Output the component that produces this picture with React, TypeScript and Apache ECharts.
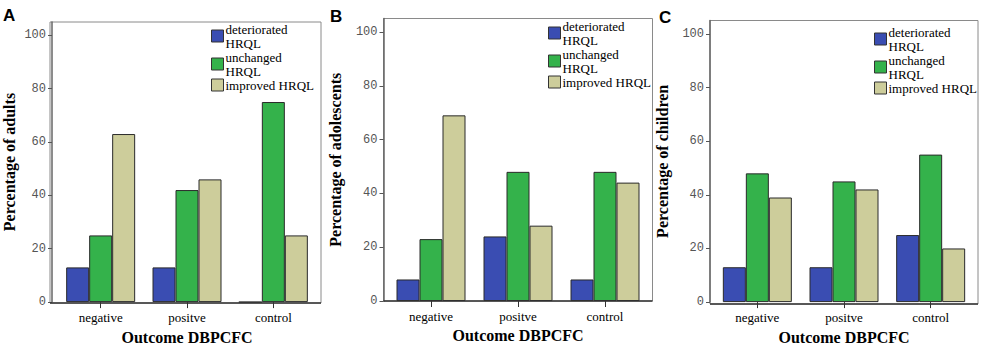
import React, { useEffect, useRef } from "react";
import * as echarts from "echarts";

const categories = ["negative", "positve", "control"];
const seriesNames = ["deteriorated HRQL", "unchanged HRQL", "improved HRQL"];
const colors = ["#3a4db2", "#34b24b", "#cdcd9b"];

const adultsDeteriorated = [13, 13, 0];
const adultsUnchanged = [25, 42, 75];
const adultsImproved = [63, 46, 25];

const adolescentsDeteriorated = [8, 24, 8];
const adolescentsUnchanged = [23, 48, 48];
const adolescentsImproved = [69, 28, 44];

const childrenDeteriorated = [13, 13, 25];
const childrenUnchanged = [48, 45, 55];
const childrenImproved = [39, 42, 20];

const yTicks = [0, 20, 40, 60, 80, 100];

const SERIF = "'Liberation Serif', 'Times New Roman', serif";
const MONO = "'Liberation Mono', 'Courier New', monospace";
const SANS = "'Liberation Sans', Arial, sans-serif";

const panels = [
  {
    label: "A",
    yName: "Percentage of adults",
    data: [adultsDeteriorated, adultsUnchanged, adultsImproved],
    box: { x: 50, y: 22, w: 271, h: 281 },
    inner: { left: 55.5, width: 261 },
    offset: 5.5,
    nameGap: 35,
    legend: { left: 211, top: 22 },
    labelPos: { x: 3, y: 7 },
  },
  {
    label: "B",
    yName: "Percentage of adolescents",
    data: [adolescentsDeteriorated, adolescentsUnchanged, adolescentsImproved],
    box: { x: 383.5, y: 18.5, w: 269, h: 282.5 },
    inner: { left: 387.5, width: 261 },
    offset: 4,
    nameGap: 40,
    legend: { left: 548, top: 19 },
    labelPos: { x: 330, y: 8 },
  },
  {
    label: "C",
    yName: "Percentage of children",
    data: [childrenDeteriorated, childrenUnchanged, childrenImproved],
    box: { x: 710, y: 20.5, w: 268, h: 283.5 },
    inner: { left: 714, width: 260 },
    offset: 4,
    nameGap: 40,
    legend: { left: 874, top: 25 },
    labelPos: { x: 659, y: 9 },
  },
];

export default function App() {
  const ref = useRef<HTMLDivElement>(null);

  useEffect(() => {
    if (!ref.current) return;
    const chart = echarts.init(ref.current, null, { renderer: "svg" });

    const grid: any[] = [];
    const xAxis: any[] = [];
    const yAxis: any[] = [];
    const series: any[] = [];
    const legend: any[] = [];
    const graphic: any[] = [];

    panels.forEach((p, i) => {
      grid.push({
        left: p.inner.left,
        width: p.inner.width,
        top: p.box.y,
        height: p.box.h,
        containLabel: false,
      });
      xAxis.push({
        type: "category",
        gridIndex: i,
        data: categories,
        axisLine: { show: false },
        axisTick: {
          show: true,
          alignWithLabel: true,
          length: 6,
          lineStyle: { color: "#333", width: 1 },
        },
        axisLabel: {
          interval: 0,
          margin: 9,
          color: "#000",
          fontFamily: SERIF,
          fontSize: 13,
        },
        name: "Outcome DBPCFC",
        nameLocation: "middle",
        nameGap: 26,
        nameTextStyle: {
          fontFamily: SERIF,
          fontSize: 16,
          fontWeight: "bold",
          color: "#000",
        },
      });
      yAxis.push({
        type: "value",
        gridIndex: i,
        min: 0,
        max: 105,
        interval: 20,
        offset: p.offset,
        splitLine: { show: false },
        axisLine: { show: true, lineStyle: { color: "#666", width: 1.5 } },
        axisTick: {
          show: true,
          length: 4,
          customValues: yTicks,
          lineStyle: { color: "#555" },
        },
        axisLabel: {
          customValues: yTicks,
          margin: 6,
          color: "#555",
          fontFamily: MONO,
          fontSize: 12,
        },
        name: p.yName,
        nameLocation: "middle",
        nameGap: p.nameGap,
        nameTextStyle: {
          fontFamily: SERIF,
          fontSize: 16,
          fontWeight: "bold",
          color: "#000",
        },
      });
      seriesNames.forEach((name, k) => {
        series.push({
          type: "bar",
          name,
          xAxisIndex: i,
          yAxisIndex: i,
          data: p.data[k],
          barWidth: 23,
          barGap: "0%",
          itemStyle: {
            color: colors[k],
            borderColor: "#2a2a2a",
            borderWidth: 1,
          },
        });
      });
      legend.push({
        orient: "vertical",
        left: p.legend.left,
        top: p.legend.top,
        padding: 0,
        itemGap: 0,
        itemWidth: 12,
        itemHeight: 12,
        icon: "rect",
        selectedMode: false,
        data: seriesNames,
        formatter: (n: string) =>
          n === "improved HRQL" ? n : n.replace(" ", "\n"),
        itemStyle: { borderColor: "#333", borderWidth: 1 },
        textStyle: {
          fontFamily: SERIF,
          fontSize: 13,
          lineHeight: 14,
          color: "#000",
          padding: [0, 0, 0, -3],
        },
      });
      graphic.push({
        type: "rect",
        silent: true,
        z: 0,
        shape: { x: p.box.x, y: p.box.y, width: p.box.w, height: p.box.h },
        style: { fill: "none", stroke: "#8a8a8a", lineWidth: 1 },
      });
      graphic.push({
        type: "line",
        silent: true,
        z: 10,
        shape: {
          x1: p.box.x,
          y1: p.box.y + p.box.h,
          x2: p.box.x + p.box.w,
          y2: p.box.y + p.box.h,
        },
        style: { stroke: "#333", lineWidth: 1.5 },
      });
      graphic.push({
        type: "text",
        silent: true,
        x: p.labelPos.x,
        y: p.labelPos.y,
        style: {
          text: p.label,
          font: `bold 17px ${SANS}`,
          fill: "#000",
        },
      });
    });

    chart.setOption({
      animation: false,
      backgroundColor: "#fff",
      grid,
      xAxis,
      yAxis,
      series,
      legend,
      graphic,
    });

    return () => chart.dispose();
  }, []);

  return (
    <div
      ref={ref}
      style={{ position: "absolute", left: 0, top: 0, width: 982, height: 350 }}
    />
  );
}
